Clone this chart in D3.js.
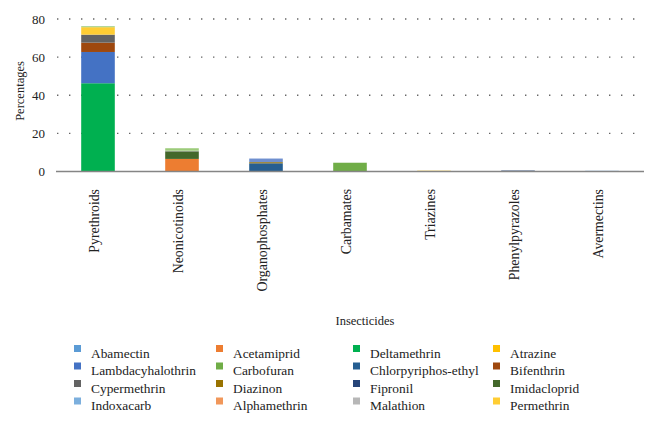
<!DOCTYPE html>
<html><head><meta charset="utf-8">
<script src="https://cdn.jsdelivr.net/npm/d3@7"></script>
<style>body{margin:0;background:#fff}svg{display:block}
text{font-family:"Liberation Serif","DejaVu Serif",serif;fill:#222}</style>
</head><body>
<svg id="c" width="656" height="433"></svg>
<script>
const categories = ["Pyrethroids","Neonicotinoids","Organophosphates","Carbamates","Triazines","Phenylpyrazoles","Avermectins"];
// stack order (bottom to top); last two are unlabeled series not shown in the legend
const seriesNames = ["Abamectin","Acetamiprid","Deltamethrin","Atrazine","Lambdacyhalothrin","Carbofuran","Chlorpyriphos-ethyl","Bifenthrin","Cypermethrin","Diazinon","Fipronil","Imidacloprid","Indoxacarb","Alphamethrin","Malathion","Permethrin","s17","s18"];
const seriesColors = ["#5B9BD5","#ED7D31","#00B050","#FFC000","#4472C4","#70AD47","#255E91","#9E480E","#636363","#997300","#264478","#43682B","#7CAFDD","#F1975A","#B7B7B7","#FFCD33","#6F8FCF","#9CCB7A"];
// values per series, one per category
const values = {
  "Abamectin":          [0,0,0,0,0,0,0.35],
  "Acetamiprid":        [0,6.6,0,0,0,0,0],
  "Deltamethrin":       [46.3,0,0,0,0,0,0],
  "Atrazine":           [0,0,0,0,0.4,0,0],
  "Lambdacyhalothrin":  [16.4,0,0,0,0,0,0],
  "Carbofuran":         [0,0,0,4.6,0,0,0],
  "Chlorpyriphos-ethyl":[0,0,4.3,0,0,0,0],
  "Bifenthrin":         [4.9,0,0,0,0,0,0],
  "Cypermethrin":       [4.2,0,0,0,0,0,0],
  "Diazinon":           [0,0,0.6,0,0,0,0],
  "Fipronil":           [0,0,0,0,0,0.5,0],
  "Imidacloprid":       [0,4.0,0,0,0,0,0],
  "Indoxacarb":         [0,0,0,0,0,0,0],
  "Alphamethrin":       [0,0,0,0,0,0,0],
  "Malathion":          [0,0.3,0,0,0,0,0],
  "Permethrin":         [3.9,0,0,0,0,0,0],
  "s17":                [0,0,1.9,0,0,0,0],
  "s18":                [0.5,1.3,0,0,0,0,0]
};
const legendNames = ["Abamectin","Acetamiprid","Deltamethrin","Atrazine","Lambdacyhalothrin","Carbofuran","Chlorpyriphos-ethyl","Bifenthrin","Cypermethrin","Diazinon","Fipronil","Imidacloprid","Indoxacarb","Alphamethrin","Malathion","Permethrin"];
const yTicks = [0,20,40,60,80];
const xTitle = "Insecticides", yTitle = "Percentages";

const svg = d3.select("#c");
const x = d3.scaleBand().domain(categories).range([56,644]).paddingInner(0.6).paddingOuter(0.3);
const y = d3.scaleLinear().domain([0,80]).range([171.5,19]);
const color = d3.scaleOrdinal().domain(seriesNames).range(seriesColors);

// grid
svg.append("g").selectAll("line").data(yTicks.filter(d=>d>0)).join("line")
  .attr("x1",57).attr("x2",642).attr("y1",d=>y(d)).attr("y2",d=>y(d))
  .attr("stroke","#666").attr("stroke-width",1.4).attr("stroke-dasharray","1.4,10.6");

// stacked bars
const rows = categories.map((c,i)=>{const o={cat:c};seriesNames.forEach(s=>o[s]=values[s][i]);return o;});
const stacked = d3.stack().keys(seriesNames)(rows);
svg.append("g").selectAll("g").data(stacked).join("g").attr("fill",d=>color(d.key))
  .selectAll("rect").data(d=>d).join("rect")
  .attr("x",d=>x(d.data.cat)).attr("width",x.bandwidth())
  .attr("y",d=>y(d[1])).attr("height",d=>Math.max(0,y(d[0])-y(d[1])));

// x axis line
svg.append("line").attr("x1",56).attr("x2",644).attr("y1",y(0)).attr("y2",y(0))
  .attr("stroke","#858585").attr("stroke-width",1.5);

// y tick labels
svg.append("g").selectAll("text").data(yTicks).join("text")
  .attr("x",45).attr("y",d=>y(d)).attr("dy","0.35em").attr("text-anchor","end")
  .attr("font-size",13).text(d=>d);

// category labels
svg.append("g").selectAll("text").data(categories).join("text")
  .attr("transform",d=>`translate(${x(d)+x.bandwidth()/2-4},189) rotate(-90)`)
  .attr("dy","0.35em").attr("text-anchor","end")
  .attr("font-size",13.8).text(d=>d);

// axis titles
svg.append("text").attr("x",365).attr("y",325).attr("text-anchor","middle")
  .attr("font-size",12.5).text(xTitle);
svg.append("text").attr("transform","translate(20,91) rotate(-90)").attr("text-anchor","middle")
  .attr("dy","0.35em").attr("font-size",12.5).text(yTitle);

// legend
const colX = [91,233,370,510];
const lg = svg.append("g").selectAll("g").data(legendNames).join("g")
  .attr("transform",(d,i)=>`translate(${colX[i%4]},${353+Math.floor(i/4)*17.5})`);
lg.append("rect").attr("x",-17).attr("y",-8).attr("width",7).attr("height",7).attr("fill",d=>color(d));
lg.append("text").attr("dy","0.35em").attr("font-size",13.4).text(d=>d);
</script>
</body></html>
